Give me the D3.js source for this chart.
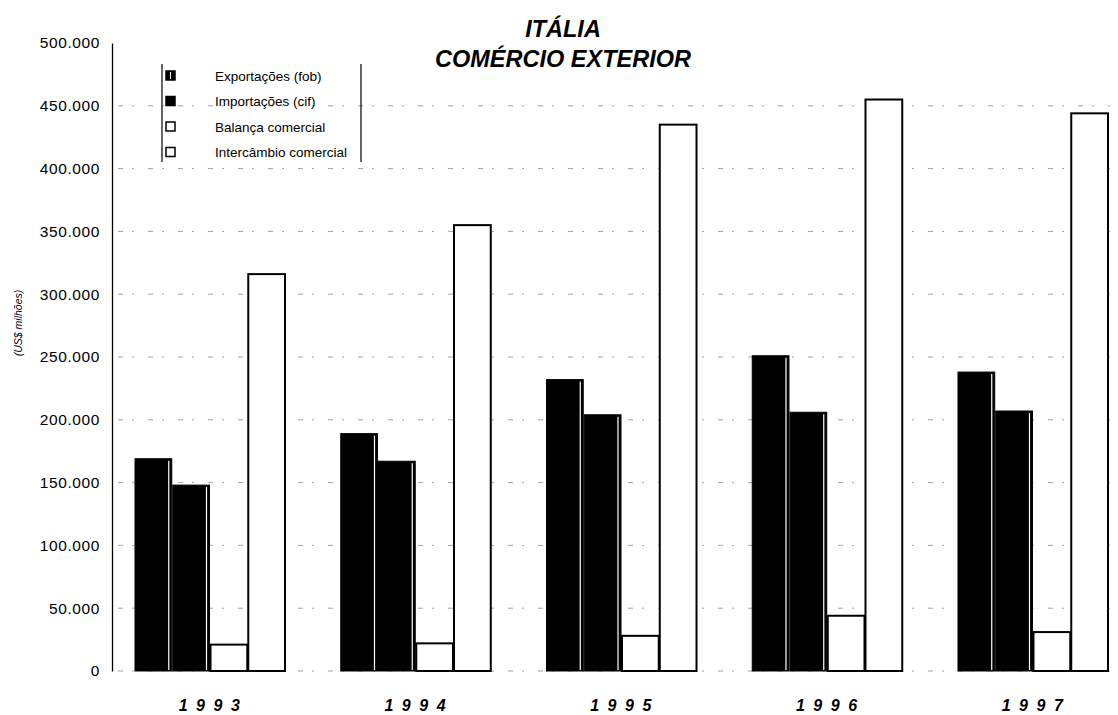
<!DOCTYPE html>
<html>
<head>
<meta charset="utf-8">
<script src="https://cdn.jsdelivr.net/npm/d3@7"></script>
<style>
  body { margin: 0; background: #fff; }
  text { font-family: "Liberation Sans", Arial, sans-serif; fill: #000; }
</style>
</head>
<body>
<svg id="chart" width="1118" height="715"></svg>
<script>
// Itália – comércio exterior, US$ milhões
const years = ["1993", "1994", "1995", "1996", "1997"];
const seriesNames = ["Exportações (fob)", "Importações (cif)", "Balança comercial", "Intercâmbio comercial"];
const exportacoes = [169000, 189000, 232000, 251000, 238000];
const importacoes = [148000, 167000, 204000, 206000, 207000];
const balanca     = [21000, 22000, 28000, 44000, 31000];
const intercambio = [316000, 355000, 435000, 455000, 444000];
const yTicks = [0, 50000, 100000, 150000, 200000, 250000, 300000, 350000, 400000, 450000, 500000];
const titleLines = ["ITÁLIA", "COMÉRCIO EXTERIOR"];
const yLabel = "(US$ milhões)";

const seriesValues = [exportacoes, importacoes, balanca, intercambio];
const seriesFill = ["#000", "#000", "#fff", "#fff"];

const svg = d3.select("#chart");
const axisX = 112;

const y = d3.scaleLinear().domain([0, 500000]).range([671, 43]);
const x0 = d3.scaleBand().domain(years).range([134, 1108]).paddingInner(0.266).paddingOuter(0);
const x1 = d3.scaleBand().domain(d3.range(seriesNames.length)).range([0, x0.bandwidth()]).padding(0);

const fmt = d3.formatLocale({ decimal: ",", thousands: ".", grouping: [3], currency: ["", ""] }).format(",d");

// faint dashed gridlines behind the bars
svg.append("g")
  .selectAll("line")
  .data(yTicks.slice(0, -1))
  .join("line")
  .attr("x1", axisX + 6)
  .attr("x2", 1110)
  .attr("y1", d => y(d))
  .attr("y2", d => y(d))
  .attr("stroke", "#333")
  .attr("stroke-width", 1)
  .attr("stroke-dasharray", "5,9,2,14")
  .attr("opacity", 0.45);

// y axis: line and labels, no tick marks
const yAxis = d3.axisLeft(y).tickValues(yTicks).tickFormat(fmt).tickSize(0).tickPadding(12);
const gy = svg.append("g").attr("transform", `translate(${axisX},0)`).call(yAxis);
gy.select(".domain").attr("stroke", "#000").attr("stroke-width", 1.3);
gy.selectAll("text")
  .style("font-family", "'Liberation Sans', Arial, sans-serif")
  .style("font-size", "15.5px")
  .style("letter-spacing", "0.6px")
  .attr("fill", "#000");

// bars
const groups = svg.append("g")
  .selectAll("g")
  .data(years)
  .join("g")
  .attr("transform", d => `translate(${x0(d)},0)`);

groups.selectAll("rect.bar")
  .data((d, i) => seriesValues.map((vals, s) => ({ s, v: vals[i] })))
  .join("rect")
  .attr("class", "bar")
  .attr("x", d => x1(d.s) + 1)
  .attr("width", x1.bandwidth() - 1)
  .attr("y", d => y(d.v))
  .attr("height", d => y(0) - y(d.v))
  .attr("fill", d => seriesFill[d.s])
  .attr("stroke", "#000")
  .attr("stroke-width", d => d.s < 2 ? 1 : 2);

// thin light rule inside the right edge of the dark bars
groups.selectAll("line.edge")
  .data((d, i) => [0, 1].map(s => ({ s, v: seriesValues[s][i] })))
  .join("line")
  .attr("class", "edge")
  .attr("x1", d => x1(d.s) + x1.bandwidth() - 3)
  .attr("x2", d => x1(d.s) + x1.bandwidth() - 3)
  .attr("y1", d => y(d.v) + 2)
  .attr("y2", y(0) - 1)
  .attr("stroke", "#fff")
  .attr("stroke-width", 1.2);

// category labels
svg.append("g")
  .selectAll("text")
  .data(years)
  .join("text")
  .attr("x", d => x0(d) + x0.bandwidth() / 2 + 4)
  .attr("y", 711)
  .attr("text-anchor", "middle")
  .style("font-size", "16px")
  .style("font-weight", "bold")
  .style("font-style", "italic")
  .style("letter-spacing", "8.5px")
  .text(d => d);

// title
svg.append("g")
  .selectAll("text")
  .data(titleLines)
  .join("text")
  .attr("x", 563)
  .attr("y", (d, i) => 37 + i * 30)
  .attr("text-anchor", "middle")
  .style("font-size", "23.5px")
  .style("font-weight", "bold")
  .style("font-style", "italic")
  .text(d => d);

// y axis title
svg.append("text")
  .attr("transform", "translate(22,323) rotate(-90)")
  .attr("text-anchor", "middle")
  .style("font-size", "10.5px")
  .style("font-style", "italic")
  .text(yLabel);

// legend
const legend = svg.append("g");
[162, 361].forEach(lx => {
  legend.append("line")
    .attr("x1", lx).attr("x2", lx)
    .attr("y1", 64).attr("y2", 162)
    .attr("stroke", "#000").attr("stroke-width", 1.2);
});
const rows = legend.selectAll("g.row")
  .data(seriesNames)
  .join("g")
  .attr("class", "row")
  .attr("transform", (d, i) => `translate(166,${76 + i * 25.5})`);
rows.append("rect")
  .attr("x", 0).attr("y", -5)
  .attr("width", 9).attr("height", 9)
  .attr("fill", (d, i) => seriesFill[i])
  .attr("stroke", "#000")
  .attr("stroke-width", 1.5);
rows.filter((d, i) => i === 0).append("line")
  .attr("x1", 4.5).attr("x2", 4.5).attr("y1", -4).attr("y2", 3)
  .attr("stroke", "#fff").attr("stroke-width", 1);
rows.append("text")
  .attr("x", 49).attr("y", 4.5)
  .style("font-size", "13.5px")
  .text(d => d);
</script>
</body>
</html>
